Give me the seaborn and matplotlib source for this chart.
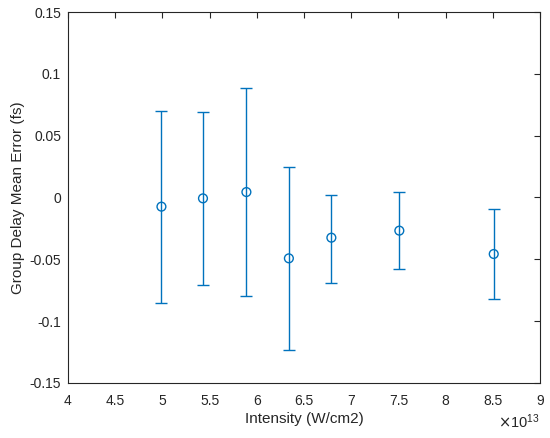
import numpy as np
import pandas as pd
import matplotlib
matplotlib.use("Agg")
import matplotlib.pyplot as plt
import seaborn as sns
from matplotlib.ticker import ScalarFormatter

# values
intensity = [4.99e13, 5.43e13, 5.89e13, 6.34e13, 6.79e13, 7.51e13, 8.51e13]
mean_err = [-0.0074, -0.0007, 0.0044, -0.0492, -0.0325, -0.0268, -0.0457]
err_low = [-0.0856, -0.0708, -0.0794, -0.1233, -0.0689, -0.0576, -0.0821]
err_high = [0.0699, 0.069, 0.0885, 0.0244, 0.0023, 0.0042, -0.0090]

df = pd.DataFrame({"Intensity": intensity, "Error": mean_err})
lower = np.array(mean_err) - np.array(err_low)
upper = np.array(err_high) - np.array(mean_err)


class PlainSci(ScalarFormatter):
    # MATLAB style labels: 4, 4.5, 5 ... with a x10^13 exponent
    def _set_format(self):
        self.format = '%g'


sns.set_style("white")
plt.rcParams['font.family'] = ['Liberation Sans', 'DejaVu Sans']
blue = '#0072BD'
grey = '#262626'

fig = plt.figure(figsize=(5.5, 4.38), dpi=100)
ax = fig.add_axes([0.1236, 0.1256, 0.8582, 0.847])

ax.errorbar(df["Intensity"], df["Error"], yerr=[lower, upper], fmt='none',
            ecolor=blue, elinewidth=1.0, capsize=4, capthick=1.0)
sns.scatterplot(data=df, x="Intensity", y="Error", ax=ax, marker='o', s=40,
                facecolors='none', edgecolor=blue, linewidth=1.0, zorder=3)

ax.set_xlim(4e13, 9e13)
ax.set_ylim(-0.15, 0.15)
ax.set_xticks(np.arange(4e13, 9.01e13, 0.5e13))
ax.set_yticks([-0.15, -0.1, -0.05, 0, 0.05, 0.1, 0.15])
ax.set_yticklabels(['-0.15', '-0.1', '-0.05', '0', '0.05', '0.1', '0.15'])
fmt = PlainSci(useMathText=True)
fmt.set_powerlimits((0, 0))
ax.xaxis.set_major_formatter(fmt)

ax.tick_params(direction='in', length=4, width=0.8, top=True, right=True,
               labelsize=10, colors=grey, labelcolor=grey)
ax.tick_params(axis='x', pad=8)
ax.tick_params(axis='y', pad=5)
for sp in ax.spines.values():
    sp.set_color(grey)
    sp.set_linewidth(0.8)
ax.xaxis.get_offset_text().set_color(grey)
ax.xaxis.get_offset_text().set_fontsize(10.5)

ax.set_xlabel('Intensity (W/cm2)', fontsize=11, color=grey, labelpad=3)
ax.set_ylabel('Group Delay Mean Error (fs)', fontsize=11, color=grey, labelpad=3)

fig.savefig('out.png', dpi=100)
